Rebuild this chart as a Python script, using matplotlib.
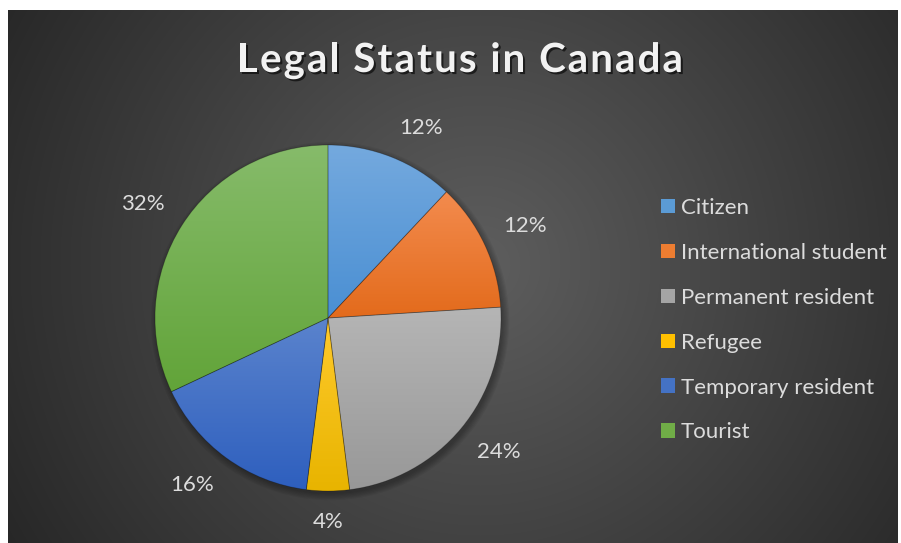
import numpy as np
import matplotlib

matplotlib.use("Agg")
import matplotlib.pyplot as plt
from matplotlib.patches import Patch, Circle
from matplotlib import patheffects as pe
from matplotlib.colors import to_rgb

plt.rcParams["font.family"] = ["Lato", "DejaVu Sans"]

# data ------------------------------------------------------------------------
TITLE = "Legal Status in Canada"
categories = [
    "Citizen",
    "International student",
    "Permanent resident",
    "Refugee",
    "Temporary resident",
    "Tourist",
]
shares = [12, 12, 24, 4, 16, 32]
# (top, bottom) of each slice's vertical gradient
grad_top = ["#74a9de", "#f38b4e", "#b5b5b5", "#ffca2c", "#5a83cd", "#86bb6a"]
grad_bot = ["#4a8fd3", "#e36b1c", "#989898", "#e8b400", "#2e5fbe", "#62a439"]
legend_colors = ["#5b9bd5", "#ed7d31", "#a5a5a5", "#ffc000", "#4472c4", "#70ad47"]

W, H, DPI = 901, 543, 100
fig = plt.figure(figsize=(W / DPI, H / DPI), dpi=DPI, facecolor="white")

# background: radial grey gradient in the chart area ---------------------------
bx0, by0, bx1, by1 = 8, 10, 898, 543  # pixel box (from top-left)
bw, bh = bx1 - bx0, by1 - by0
bg_ax = fig.add_axes([bx0 / W, 1 - by1 / H, bw / W, bh / H])
yy, xx = np.mgrid[0:bh, 0:bw]
d = np.hypot(xx + bx0 - 480, yy + by0 - 265)
val = np.clip(94 - (94 - 38) * d / 560, 36, 255) / 255
bg_ax.imshow(np.dstack([val, val, val]), aspect="auto", interpolation="bilinear")
bg_ax.set_axis_off()

# pie ---------------------------------------------------------------------------
cx, cy, R = 328, 318, 173
span = 1.35
side = 2 * span * R
ax = fig.add_axes([(cx - side / 2) / W, (H - cy - side / 2) / H, side / W, side / H])
ax.set_facecolor("none")

# soft shadow
for i in range(6):
    ax.add_patch(Circle((0.012, -0.018), 1 + 0.007 * i, color="black", alpha=0.05, lw=0))

wedges, texts, autotexts = ax.pie(
    shares,
    startangle=90,
    counterclock=False,
    autopct=lambda p: f"{p:.0f}%",
    pctdistance=1.12,
    radius=1,
    wedgeprops=dict(edgecolor=(0, 0, 0, 0.25), linewidth=0.6),
    textprops=dict(color="#dcdcdc", fontsize=16),
)
# "best fit" style: text sits outside its anchor point
for t in autotexts:
    x, y = t.get_position()
    t.set_ha("center" if abs(x) < 0.1 else ("left" if x > 0 else "right"))
    t.set_va("bottom" if y > 0 else "top")

for w, top, bot in zip(wedges, grad_top, grad_bot):
    w.set_facecolor("none")
    w.set_zorder(3)
    ext = w.get_path().get_extents()
    t = np.linspace(0, 1, 64)[:, None]
    g = (1 - t) * np.array(to_rgb(top)) + t * np.array(to_rgb(bot))
    im = ax.imshow(
        g[:, None, :],
        extent=(ext.x0, ext.x1, ext.y0, ext.y1),
        aspect="auto",
        interpolation="bilinear",
        zorder=2,
    )
    im.set_clip_path(w)
ax.set_xlim(-span, span)
ax.set_ylim(-span, span)
ax.set_axis_off()

# legend ------------------------------------------------------------------------
handles = [Patch(facecolor=c, edgecolor="none") for c in legend_colors]
leg = fig.legend(
    handles,
    categories,
    loc="upper left",
    bbox_to_anchor=(661 / W, 1 - 198 / H),
    bbox_transform=fig.transFigure,
    frameon=False,
    fontsize=16,
    handlelength=0.63,
    handleheight=0.63,
    handletextpad=0.27,
    labelspacing=1.12,
    borderpad=0,
    borderaxespad=0,
)
for txt in leg.get_texts():
    txt.set_color("#dcdcdc")

# title: letter-spaced, bold, with a shadow --------------------------------------
fig.canvas.draw()
rend = fig.canvas.get_renderer()
tkw = dict(fontsize=29, fontweight="bold", color="#f2f2f2")


def width(s):
    t = fig.text(0, 0, s, **tkw)
    wd = t.get_window_extent(rend).width
    t.remove()
    return wd


base = width("HH")
adv = [width("H" + c + "H") - base for c in TITLE]
target = 683 - 237
spacing = (target - sum(adv[:-1]) - width(TITLE[-1])) / (len(TITLE) - 1)
x = 237.0
shadow = [pe.SimplePatchShadow(offset=(1.5, -1.5), shadow_rgbFace="black", alpha=0.6), pe.Normal()]
for c, a in zip(TITLE, adv):
    if c != " ":
        fig.text(x / W, 1 - 72 / H, c, ha="left", va="baseline", path_effects=shadow, **tkw)
    x += a + spacing

fig.savefig("out.png", dpi=DPI, facecolor="white")
